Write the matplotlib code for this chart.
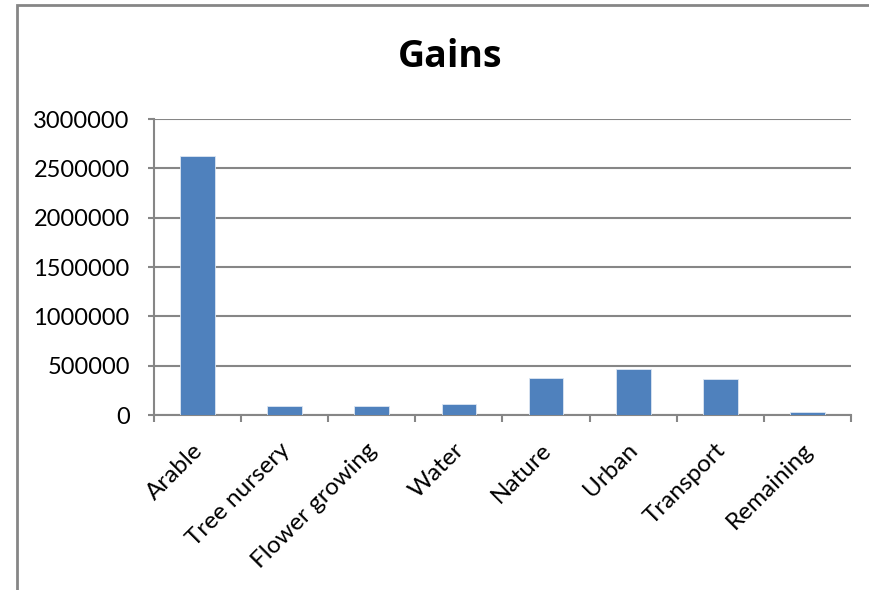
import matplotlib
matplotlib.use("Agg")
import matplotlib.pyplot as plt
import matplotlib.transforms as mtransforms
from matplotlib.lines import Line2D

categories = ["Arable", "Tree nursery", "Flower growing", "Water",
              "Nature", "Urban", "Transport", "Remaining"]
gains = [2620000, 88000, 94000, 111000, 375000, 466000, 362000, 34000]
yticks = [0, 500000, 1000000, 1500000, 2000000, 2500000, 3000000]

bar_color = "#4F81BD"
axis_gray = "#868686"

plt.rcParams["font.family"] = ["Lato", "DejaVu Sans"]

fig = plt.figure(figsize=(8.7, 5.9), dpi=100)
ax = fig.add_axes([154 / 870, 1 - 415 / 590, (851 - 154) / 870, (415 - 119) / 590])

# chart-area border: left and top edges, running off the canvas
bx, by = 17.5 / 870, 1 - 5 / 590
fig.add_artist(Line2D([bx, bx, 1.05], [-0.05, by, by], transform=fig.transFigure,
                      color=axis_gray, linewidth=2, solid_joinstyle="miter",
                      clip_on=False))

x = list(range(len(categories)))
ax.bar(x, gains, width=0.4, color=bar_color, edgecolor="#DCE6F2",
       linewidth=0.6, zorder=3)

ax.set_xlim(-0.5, len(categories) - 0.5)
ax.set_ylim(0, 3000000)
ax.set_yticks(yticks)
ax.set_yticklabels([str(v) for v in yticks])
ax.yaxis.grid(True, color=axis_gray, linewidth=1.5, zorder=0)

ax.set_xticks([i - 0.5 for i in range(len(categories) + 1)])
ax.set_xticklabels([])
ax.set_xticks(x, minor=True)
ax.set_xticklabels(categories, minor=True, rotation=45, ha="right",
                   rotation_mode="anchor", fontsize=17.5)
ax.tick_params(axis="x", which="minor", length=0, pad=14)
ax.tick_params(axis="x", which="major", length=5, width=1.5, color=axis_gray)
ax.tick_params(axis="y", length=4.5, width=1.5, color=axis_gray, labelsize=17, pad=13)

# nudge the slanted category labels a little left and down
shift = mtransforms.ScaledTranslation(-6 / 100, -5 / 100, fig.dpi_scale_trans)
for lbl in ax.get_xticklabels(minor=True):
    lbl.set_transform(lbl.get_transform() + shift)

for side in ("top", "right"):
    ax.spines[side].set_visible(False)
for side in ("left", "bottom"):
    ax.spines[side].set_color(axis_gray)
    ax.spines[side].set_linewidth(1.5)

fig.text(450 / 870, 1 - 57 / 590, "Gains", ha="center", va="center",
         fontsize=27, fontweight="bold", family=["Open Sans", "DejaVu Sans"])

fig.savefig("out.png", dpi=100)
